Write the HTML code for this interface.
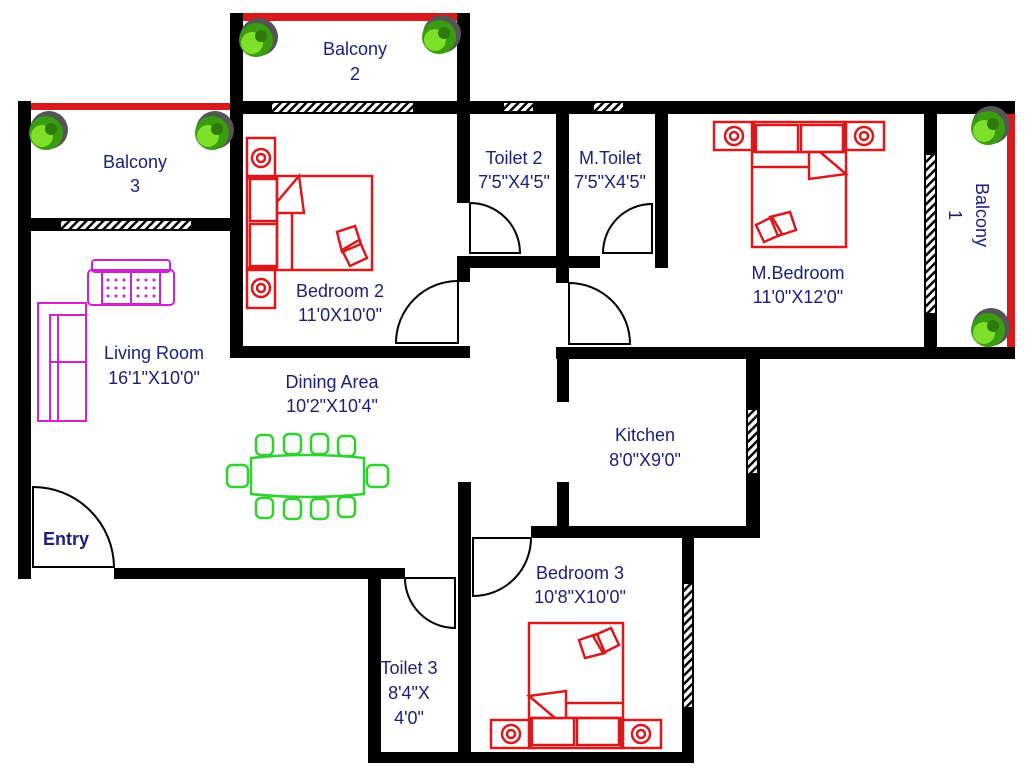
<!DOCTYPE html>
<html><head><meta charset="utf-8"><style>
html,body{margin:0;padding:0;background:#fff;}
svg{display:block;}
text{font-family:"Liberation Sans",sans-serif;font-size:18px;fill:#1c1c7a;text-anchor:middle;}
</style></head><body>
<svg width="1028" height="768" viewBox="0 0 1028 768" xmlns="http://www.w3.org/2000/svg">
<defs>
<pattern id="h" width="6" height="6" patternUnits="userSpaceOnUse" patternTransform="rotate(45)">
<rect width="6" height="6" fill="#fff"/><rect width="2.5" height="6" fill="#000"/></pattern>
<g id="bed" fill="none" stroke="#d9191c" stroke-width="2.5">
<rect x="0" y="0" width="40" height="28"/><rect x="130" y="0" width="40" height="28"/>
<circle cx="20" cy="14" r="9"/><circle cx="20" cy="14" r="4"/><circle cx="150" cy="14" r="9"/><circle cx="150" cy="14" r="4"/>
<rect x="38" y="0" width="94" height="125"/>
<rect x="42" y="3" width="42" height="27"/><rect x="87" y="3" width="42" height="27"/>
<line x1="38" y1="30" x2="132" y2="30"/><line x1="38" y1="45" x2="95" y2="45"/>
<polyline points="95,30 95,57 132,52 106,30"/>
<polygon points="42,103 58,95 68,112 50,120"/><polygon points="56,95 76,90 82,108 64,114"/>
</g>
<g id="tree"><circle cx="3" cy="-3" r="19" fill="#555"/><circle cx="0" cy="0" r="17" fill="#3a9c10"/><circle cx="-4" cy="3" r="11" fill="#7fe02a"/><circle cx="5" cy="-4" r="6" fill="#2d7a0a"/></g>
</defs>

<rect x="243" y="13" width="214" height="8" fill="#d9191c"/>
<rect x="31" y="103" width="199" height="7" fill="#d9191c"/>
<rect x="1007" y="114" width="8" height="233" fill="#d9191c"/>

<g fill="#000">
<rect x="230" y="13" width="13" height="97"/>
<rect x="457" y="13" width="13" height="100"/>
<rect x="230" y="101" width="785" height="13"/>
<rect x="18" y="101" width="13" height="478"/>
<rect x="31" y="218" width="199" height="13"/>
<rect x="230" y="101" width="13" height="257"/>
<rect x="230" y="346" width="240" height="12"/>
<rect x="457" y="101" width="13" height="102"/>
<rect x="457" y="256" width="143" height="12"/>
<rect x="457" y="256" width="13" height="26"/>
<rect x="556" y="101" width="13" height="182"/>
<rect x="655" y="101" width="13" height="167"/>
<rect x="924" y="101" width="13" height="258"/>
<rect x="1007" y="101" width="8" height="13"/>
<rect x="556" y="347" width="459" height="12"/>
<rect x="557" y="347" width="12" height="55"/>
<rect x="557" y="482" width="12" height="56"/>
<rect x="746" y="347" width="14" height="191"/>
<rect x="531" y="526" width="229" height="12"/>
<rect x="682" y="526" width="12" height="237"/>
<rect x="458" y="482" width="13" height="281"/>
<rect x="368" y="752" width="326" height="11"/>
<rect x="368" y="568" width="13" height="195"/>
<rect x="114" y="568" width="291" height="11"/>
</g>

<g fill="url(#h)">
<rect x="272" y="103" width="141" height="9"/>
<rect x="61" y="221" width="130" height="8"/>
<rect x="504" y="103" width="29" height="8"/>
<rect x="594" y="103" width="29" height="8"/>
<rect x="926" y="155" width="9" height="158"/>
<rect x="748" y="410" width="9" height="63"/>
<rect x="684" y="584" width="8" height="123"/>
</g>

<g fill="none" stroke="#000" stroke-width="2">
<path d="M470,203 A50,50 0 0 1 520,253 L470,253 Z"/>
<path d="M652,204 A49,49 0 0 0 603,253 L652,253 Z"/>
<path d="M569,283 A61,61 0 0 1 630,344 L569,344 Z"/>
<path d="M458,281 A62,62 0 0 0 396,343 L458,343 Z"/>
<path d="M33,487 A81,81 0 0 1 114,567 L33,567 Z"/>
<path d="M405,578 A50,50 0 0 0 455,628 L455,578 Z"/>
<path d="M531,538 A58,58 0 0 1 473,596 L473,538 Z"/>
</g>

<use href="#tree" x="256" y="40"/><use href="#tree" x="439" y="37"/>
<use href="#tree" x="46" y="133"/><use href="#tree" x="212" y="133"/>
<use href="#tree" x="988" y="128"/><use href="#tree" x="988" y="330"/>

<use href="#bed" transform="translate(714,122)"/>
<use href="#bed" transform="translate(661,748) rotate(180)"/>
<use href="#bed" transform="translate(247,308) rotate(-90)"/>

<g fill="none" stroke="#d020d0" stroke-width="2">
<rect x="92" y="260" width="78" height="12" rx="3"/>
<rect x="88" y="270" width="86" height="35" rx="4"/>
<rect x="102" y="272" width="58" height="32"/>
<line x1="131" y1="272" x2="131" y2="304"/>
<rect x="38" y="303" width="48" height="118"/>
<rect x="50" y="315" width="36" height="106"/>
<line x1="58" y1="315" x2="58" y2="421"/><line x1="50" y1="362" x2="86" y2="362"/>
</g>
<g fill="#d020d0">
<circle cx="108" cy="280" r="1.5"/><circle cx="116" cy="280" r="1.5"/><circle cx="124" cy="280" r="1.5"/><circle cx="138" cy="280" r="1.5"/><circle cx="146" cy="280" r="1.5"/><circle cx="154" cy="280" r="1.5"/>
<circle cx="108" cy="288" r="1.5"/><circle cx="116" cy="288" r="1.5"/><circle cx="124" cy="288" r="1.5"/><circle cx="138" cy="288" r="1.5"/><circle cx="146" cy="288" r="1.5"/><circle cx="154" cy="288" r="1.5"/>
<circle cx="108" cy="296" r="1.5"/><circle cx="116" cy="296" r="1.5"/><circle cx="124" cy="296" r="1.5"/><circle cx="138" cy="296" r="1.5"/><circle cx="146" cy="296" r="1.5"/><circle cx="154" cy="296" r="1.5"/>
</g>

<g fill="none" stroke="#2fd02f" stroke-width="2.5">
<path d="M251,458 Q308,452 364,458 L364,494 Q308,500 251,494 Z"/>
<rect x="256" y="435" width="17" height="20" rx="5"/><rect x="284" y="434" width="17" height="20" rx="5"/>
<rect x="311" y="434" width="17" height="20" rx="5"/><rect x="338" y="436" width="17" height="20" rx="5"/>
<rect x="256" y="498" width="17" height="20" rx="5"/><rect x="284" y="499" width="17" height="20" rx="5"/>
<rect x="311" y="499" width="17" height="20" rx="5"/><rect x="338" y="497" width="17" height="20" rx="5"/>
<rect x="227" y="465" width="21" height="22" rx="5"/><rect x="367" y="465" width="21" height="22" rx="5"/>
</g>

<text x="355" y="55">Balcony</text><text x="355" y="80">2</text>
<text x="135" y="168">Balcony</text><text x="135" y="192">3</text>
<text x="514" y="164">Toilet 2</text><text x="514" y="188">7'5"X4'5"</text>
<text x="610" y="164">M.Toilet</text><text x="610" y="188">7'5"X4'5"</text>
<text x="798" y="279">M.Bedroom</text><text x="798" y="303">11'0"X12'0"</text>
<text transform="translate(976,215) rotate(90)">Balcony</text>
<text transform="translate(949,215) rotate(90)">1</text>
<text x="340" y="297">Bedroom 2</text><text x="340" y="321">11'0X10'0"</text>
<text x="154" y="359">Living Room</text><text x="154" y="384">16'1"X10'0"</text>
<text x="332" y="388">Dining Area</text><text x="332" y="412">10'2"X10'4"</text>
<text x="645" y="441">Kitchen</text><text x="645" y="466">8'0"X9'0"</text>
<text x="66" y="545" style="font-weight:bold">Entry</text>
<text x="580" y="579">Bedroom 3</text><text x="580" y="603">10'8"X10'0"</text>
<text x="409" y="674">Toilet 3</text><text x="409" y="699">8'4"X</text><text x="409" y="724">4'0"</text>
</svg>
</body></html>
